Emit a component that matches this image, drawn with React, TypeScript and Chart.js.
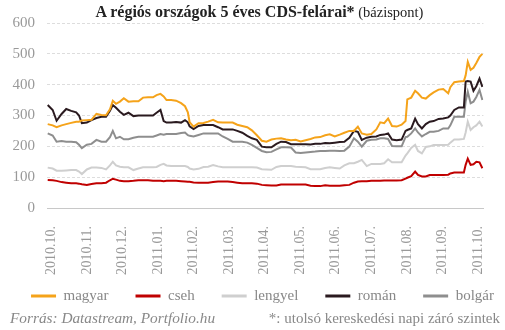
import React, { useEffect, useRef } from "react";
import { Chart, registerables } from "chart.js";

Chart.register(...registerables);

const tickLabels = [
  "2010.10.", "2010.11.", "2010.12.", "2011.01.", "2011.02.", "2011.03.", "2011.04.",
  "2011.05.", "2011.06.", "2011.07.", "2011.08.", "2011.09.", "2011.10.",
];

// position of each observation, in months since the start of 2010.10.
const monthPos = [
  -0.10, 0.04, 0.15, 0.29, 0.42, 0.56, 0.70, 0.78, 0.86, 1.00,
  1.13, 1.27, 1.41, 1.54, 1.65, 1.73, 1.82, 1.93, 2.04, 2.17,
  2.31, 2.45, 2.58, 2.72, 2.86, 2.96, 3.07, 3.16, 3.24, 3.37,
  3.51, 3.65, 3.76, 3.84, 3.89, 4.00, 4.14, 4.28, 4.41, 4.55,
  4.69, 4.82, 4.96, 5.10, 5.23, 5.37, 5.51, 5.64, 5.78, 5.92,
  6.05, 6.19, 6.33, 6.46, 6.60, 6.74, 6.87, 7.01, 7.15, 7.29,
  7.42, 7.56, 7.70, 7.83, 7.97, 8.11, 8.24, 8.38, 8.51, 8.62,
  8.73, 8.87, 9.00, 9.14, 9.25, 9.36, 9.47, 9.58, 9.71, 9.85,
  9.96, 10.01, 10.12, 10.23, 10.31, 10.42, 10.53, 10.64, 10.75, 10.89,
  11.02, 11.16, 11.22, 11.33, 11.46, 11.60, 11.65, 11.71, 11.79, 11.87,
  11.95, 12.04, 12.12,
];

const magyar = [
  272, 268, 262, 268, 272, 276, 280, 280, 284, 285,
  286, 305, 302, 301, 320, 348, 338, 345, 356, 345,
  346, 346, 358, 359, 359, 366, 370, 362, 350, 350,
  348, 340, 330, 310, 278, 264, 275, 276, 280, 286,
  278, 277, 277, 277, 270, 266, 262, 252, 236, 218,
  215, 222, 225, 226, 222, 220, 221, 216, 220, 224,
  229, 230, 236, 239, 232, 238, 244, 250, 250, 264,
  242, 238, 240, 255, 278, 275, 290, 266, 264, 270,
  282, 352, 358, 380, 372, 358, 355, 366, 375, 384,
  386, 372, 392, 408, 410, 412, 430, 474, 448, 455,
  470, 490, 500,
];

const cseh = [
  91, 90, 88, 84, 82, 80, 80, 79, 77, 75,
  78, 80, 80, 82, 90, 95, 92, 88, 87, 87,
  88, 90, 90, 90, 88, 88, 88, 87, 88, 88,
  88, 87, 86, 85, 85, 83, 82, 82, 82, 84,
  86, 86, 86, 84, 82, 80, 80, 80, 79, 75,
  74, 73, 73, 76, 76, 76, 76, 76, 76, 72,
  71, 71, 74, 72, 72, 72, 74, 75, 82, 86,
  87, 87, 88, 88, 88, 89, 89, 89, 89, 90,
  95, 98, 103, 118, 107, 102, 102, 107, 107, 107,
  107, 108, 112, 115, 115, 115, 140, 160, 140, 142,
  150, 148, 129,
];

const lengyel = [
  131, 128, 121, 121, 122, 123, 123, 118, 110, 125,
  131, 131, 130, 125, 138, 150, 138, 134, 132, 132,
  123, 128, 132, 132, 132, 133, 140, 143, 138, 136,
  136, 136, 136, 133, 128, 125, 127, 133, 134, 139,
  135, 132, 132, 132, 132, 132, 132, 132, 131, 126,
  125, 124, 133, 136, 136, 136, 134, 133, 132, 126,
  126, 126, 130, 132, 130, 128, 138, 145, 145, 150,
  156, 136, 143, 143, 143, 145, 158, 148, 148, 148,
  170, 177, 195, 205, 185, 177, 198, 200, 204, 204,
  204, 205, 212, 222, 222, 224, 245, 280, 253, 262,
  268, 280, 264,
];

const roman = [
  334, 318, 283, 305, 321, 315, 310, 300, 275, 277,
  285, 292, 296, 296, 315, 334, 325, 312, 302, 309,
  298, 300, 300, 300, 300, 309, 318, 282, 277, 277,
  279, 277, 285, 278, 265, 256, 266, 269, 269, 269,
  262, 255, 255, 255, 250, 244, 234, 226, 221, 199,
  197, 197, 208, 215, 214, 207, 207, 207, 207, 206,
  208, 208, 211, 210, 212, 214, 215, 228, 250, 247,
  221, 228, 231, 232, 237, 238, 242, 222, 220, 222,
  250, 253, 258, 290, 272, 258, 272, 280, 282, 289,
  290, 294, 300, 318, 326, 326, 410, 412, 410, 380,
  395, 420, 393,
];

const bolgar = [
  242, 235, 215, 217, 215, 215, 213, 205, 194, 205,
  208, 221, 215, 215, 230, 250, 226, 231, 223, 223,
  228, 231, 231, 231, 231, 235, 240, 238, 240, 240,
  240, 243, 245, 236, 234, 232, 237, 242, 242, 242,
  242, 232, 224, 215, 215, 215, 212, 205, 195, 185,
  181, 182, 190, 197, 197, 196, 180, 178, 180, 182,
  183, 185, 185, 186, 186, 185, 186, 199, 226, 215,
  199, 218, 221, 222, 226, 226, 224, 201, 200, 200,
  230, 231, 242, 258, 245, 232, 240, 247, 247, 250,
  258, 258, 268, 296, 296, 296, 345, 377, 340, 345,
  360, 383, 350,
];

const seriesNames = ["magyar", "cseh", "lengyel", "román", "bolgár"];
const seriesColors = ["#f5a31a", "#c00000", "#cfcfcf", "#2a1a1f", "#8e8e8e"];

const FONT = "'Liberation Serif', serif";

// keeps the legend on a single row and places it like the original layout
const legendTweak = {
  id: "legendTweak",
  beforeLayout(chart: any) {
    const lg = chart.legend;
    if (lg && !lg.__patched) {
      const orig = lg.fit.bind(lg);
      lg.fit = function () {
        this.maxWidth = 1000;
        orig();
      };
      lg.__patched = true;
    }
  },
  afterLayout(chart: any) {
    const lg = chart.legend;
    if (!lg) return;
    lg.top -= 16.5;
    lg.bottom -= 16.5;
    lg.left = -5;
    lg.right = 530;
  },
};

export default function App() {
  const ref = useRef<HTMLCanvasElement>(null);

  useEffect(() => {
    const values = [magyar, cseh, lengyel, roman, bolgar];
    const chart = new Chart(ref.current as HTMLCanvasElement, {
      type: "line",
      data: {
        datasets: seriesNames.map((name, k) => ({
          label: name,
          data: monthPos.map((x, i) => ({ x, y: values[k][i] })),
          borderColor: seriesColors[k],
          backgroundColor: seriesColors[k],
          borderWidth: 2,
          pointRadius: 0,
          tension: 0,
          fill: false,
        })),
      },
      plugins: [legendTweak],
      options: {
        responsive: false,
        animation: false,
        layout: { padding: { top: 23, right: 9, bottom: 0, left: 0 } },
        plugins: {
          tooltip: { enabled: false },
          legend: {
            position: "bottom",
            labels: {
              boxWidth: 25,
              boxHeight: 3,
              padding: 27,
              color: "#888",
              font: { family: FONT, size: 15 },
              generateLabels: (c: any) =>
                c.data.datasets.map((d: any, i: number) => ({
                  text: d.label,
                  fillStyle: seriesColors[i],
                  strokeStyle: seriesColors[i],
                  lineWidth: 0,
                  hidden: false,
                  datasetIndex: i,
                  fontColor: "#888",
                })),
            },
          },
        },
        scales: {
          x: {
            type: "linear",
            min: -0.12,
            max: 12.15,
            grid: { display: false },
            border: { display: true, color: "#c8c8c8", width: 1 },
            afterBuildTicks: (s: any) => {
              s.ticks = tickLabels.map((_, i) => ({ value: i }));
            },
            afterFit: (s: any) => {
              s.height = 70;
            },
            ticks: {
              autoSkip: false,
              minRotation: 90,
              maxRotation: 90,
              padding: 10,
              color: "#999",
              font: { family: FONT, size: 14 },
              callback: (v: any) => tickLabels[Math.round(Number(v))] ?? "",
            },
          },
          y: {
            min: 0,
            max: 600,
            afterFit: (s: any) => {
              s.width = 47;
            },
            grid: {
              color: (ctx: any) =>
                ctx.tick && ctx.tick.value === 0 ? "rgba(0,0,0,0)" : "#dddddd",
              drawTicks: false,
              lineWidth: 1,
            },
            border: { display: false, dash: [3, 2] },
            ticks: {
              stepSize: 100,
              padding: 12,
              color: "#999",
              font: { family: FONT, size: 15 },
            },
          },
        },
      },
    } as any);
    return () => chart.destroy();
  }, []);

  return (
    <div style={{ position: "absolute", left: 0, top: 0, width: 505, height: 330, background: "#fff" }}>
      <canvas ref={ref} width={505} height={330} style={{ position: "absolute", left: 0, top: 0, width: 505, height: 330 }} />
      <div
        style={{
          position: "absolute", left: 0, top: 2, width: 519, textAlign: "center",
          fontFamily: FONT, lineHeight: "20px", color: "#222", whiteSpace: "nowrap",
        }}
      >
        <b style={{ fontSize: 16 }}>A régiós országok 5 éves CDS-felárai*</b>
        <span style={{ fontSize: 14.5 }}> (bázispont)</span>
      </div>
      <div
        style={{
          position: "absolute", left: 10, top: 309, font: `italic 15.3px ${FONT}`,
          lineHeight: "18px", color: "#888", whiteSpace: "nowrap",
        }}
      >
        Forrás: Datastream, Portfolio.hu
      </div>
      <div
        style={{
          position: "absolute", right: 5, top: 309, font: `15px ${FONT}`,
          lineHeight: "18px", color: "#888", whiteSpace: "nowrap",
        }}
      >
        *: utolsó kereskedési napi záró szintek
      </div>
    </div>
  );
}
